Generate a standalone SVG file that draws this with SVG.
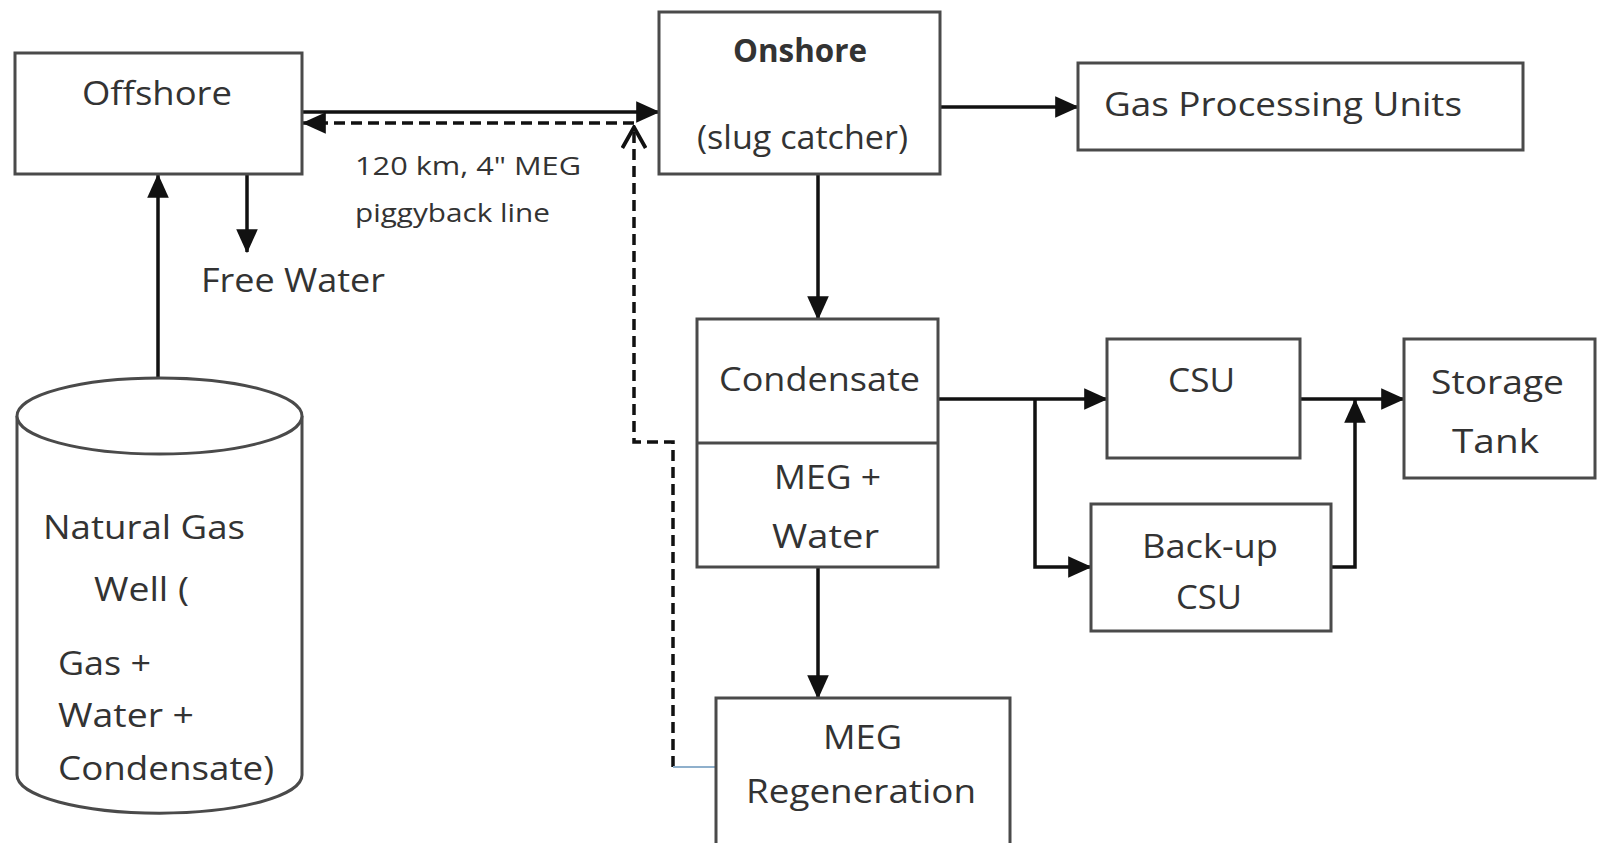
<svg xmlns="http://www.w3.org/2000/svg" width="1603" height="843" viewBox="0 0 1603 843">
<defs>
<marker id="arr" viewBox="0 0 20 20" refX="19" refY="10" markerWidth="24" markerHeight="24" markerUnits="userSpaceOnUse" orient="auto">
<path d="M0,1 L20,10 L0,19 z" fill="#111"/>
</marker>
<marker id="open" viewBox="0 0 20 20" refX="19" refY="10" markerWidth="26" markerHeight="26" markerUnits="userSpaceOnUse" orient="auto">
<path d="M2,1 L18,10 L2,19" fill="none" stroke="#111" stroke-width="3"/>
</marker>
<style>
.box{fill:#fff;stroke:#4a4a4a;stroke-width:3}
.t{font-family:"Open Sans","Liberation Sans",sans-serif;font-size:32px;fill:#333;text-anchor:start}
.s{font-size:26px}
.b{font-weight:bold}
.ln{fill:none;stroke:#111;stroke-width:3.5}
.dash{fill:none;stroke:#111;stroke-width:3.5;stroke-dasharray:11 6}
</style>
</defs>
<rect width="1603" height="843" fill="#fff"/>

<g id="connectors">
<line class="ln" x1="302" y1="112" x2="659" y2="112" marker-end="url(#arr)"/>
<line class="dash" x1="634" y1="123" x2="303" y2="123" marker-end="url(#arr)"/>
<path class="dash" d="M673,767 L673,442 L634,442 L634,126" marker-end="url(#open)"/>
<line x1="673" y1="767" x2="716" y2="767" stroke="#8fb0cc" stroke-width="2"/>
<line class="ln" x1="247" y1="174" x2="247" y2="252" marker-end="url(#arr)"/>
<line class="ln" x1="158" y1="378" x2="158" y2="175" marker-end="url(#arr)"/>
<line class="ln" x1="940" y1="107" x2="1078" y2="107" marker-end="url(#arr)"/>
<line class="ln" x1="818" y1="174" x2="818" y2="319" marker-end="url(#arr)"/>
<line class="ln" x1="818" y1="567" x2="818" y2="698" marker-end="url(#arr)"/>
<line class="ln" x1="938" y1="399" x2="1107" y2="399" marker-end="url(#arr)"/>
<path class="ln" d="M1035,399 L1035,567 L1091,567" marker-end="url(#arr)"/>
<line class="ln" x1="1300" y1="399" x2="1404" y2="399" marker-end="url(#arr)"/>
<path class="ln" d="M1331,567 L1355,567 L1355,400" marker-end="url(#arr)"/>
</g>

<g id="offshore">
<rect class="box" x="15" y="53" width="287" height="121"/>
<text class="t" x="82" y="105" textLength="150" lengthAdjust="spacingAndGlyphs">Offshore</text>
</g>

<g id="onshore">
<rect class="box" x="659" y="12" width="281" height="162"/>
<text class="t b" x="733" y="62" textLength="134" lengthAdjust="spacingAndGlyphs">Onshore</text>
<text class="t" x="697" y="149" textLength="211" lengthAdjust="spacingAndGlyphs">(slug catcher)</text>
</g>

<g id="gas-processing">
<rect class="box" x="1078" y="63" width="445" height="87"/>
<text class="t" x="1104" y="116" textLength="358" lengthAdjust="spacingAndGlyphs">Gas Processing Units</text>
</g>

<g id="pipeline-label">
<text class="t s" x="355" y="175" textLength="226" lengthAdjust="spacingAndGlyphs">120 km, 4" MEG</text>
<text class="t s" x="355" y="222" textLength="195" lengthAdjust="spacingAndGlyphs">piggyback line</text>
</g>

<g id="free-water">
<text class="t" x="201" y="292" textLength="184" lengthAdjust="spacingAndGlyphs">Free Water</text>
</g>

<g id="well">
<path class="box" d="M17,416 L17,775 A142,38 0 0 0 302,775 L302,416"/>
<ellipse class="box" cx="159.5" cy="416" rx="142.5" ry="38"/>
<text class="t" x="43" y="539" textLength="202" lengthAdjust="spacingAndGlyphs">Natural Gas</text>
<text class="t" x="94" y="601" textLength="95" lengthAdjust="spacingAndGlyphs">Well (</text>
<text class="t" x="58" y="675" textLength="93" lengthAdjust="spacingAndGlyphs">Gas +</text>
<text class="t" x="58" y="727" textLength="136" lengthAdjust="spacingAndGlyphs">Water +</text>
<text class="t" x="58" y="780" textLength="216" lengthAdjust="spacingAndGlyphs">Condensate)</text>
</g>

<g id="separator">
<rect class="box" x="697" y="319" width="241" height="248"/>
<line x1="697" y1="443" x2="938" y2="443" stroke="#4a4a4a" stroke-width="3"/>
<text class="t" x="719" y="391" textLength="201" lengthAdjust="spacingAndGlyphs">Condensate</text>
<text class="t" x="774" y="489" textLength="107" lengthAdjust="spacingAndGlyphs">MEG +</text>
<text class="t" x="772" y="548" textLength="107" lengthAdjust="spacingAndGlyphs">Water</text>
</g>

<g id="meg-regeneration">
<rect class="box" x="716" y="698" width="294" height="150"/>
<text class="t" x="823" y="749" textLength="79" lengthAdjust="spacingAndGlyphs">MEG</text>
<text class="t" x="746" y="803" textLength="230" lengthAdjust="spacingAndGlyphs">Regeneration</text>
</g>

<g id="csu">
<rect class="box" x="1107" y="339" width="193" height="119"/>
<text class="t" x="1168" y="392" textLength="67" lengthAdjust="spacingAndGlyphs">CSU</text>
</g>

<g id="backup-csu">
<rect class="box" x="1091" y="504" width="240" height="127"/>
<text class="t" x="1142" y="558" textLength="136" lengthAdjust="spacingAndGlyphs">Back-up</text>
<text class="t" x="1176" y="609" textLength="66" lengthAdjust="spacingAndGlyphs">CSU</text>
</g>

<g id="storage-tank">
<rect class="box" x="1404" y="339" width="191" height="139"/>
<text class="t" x="1431" y="394" textLength="133" lengthAdjust="spacingAndGlyphs">Storage</text>
<text class="t" x="1452" y="453" textLength="87" lengthAdjust="spacingAndGlyphs">Tank</text>
</g>
</svg>
